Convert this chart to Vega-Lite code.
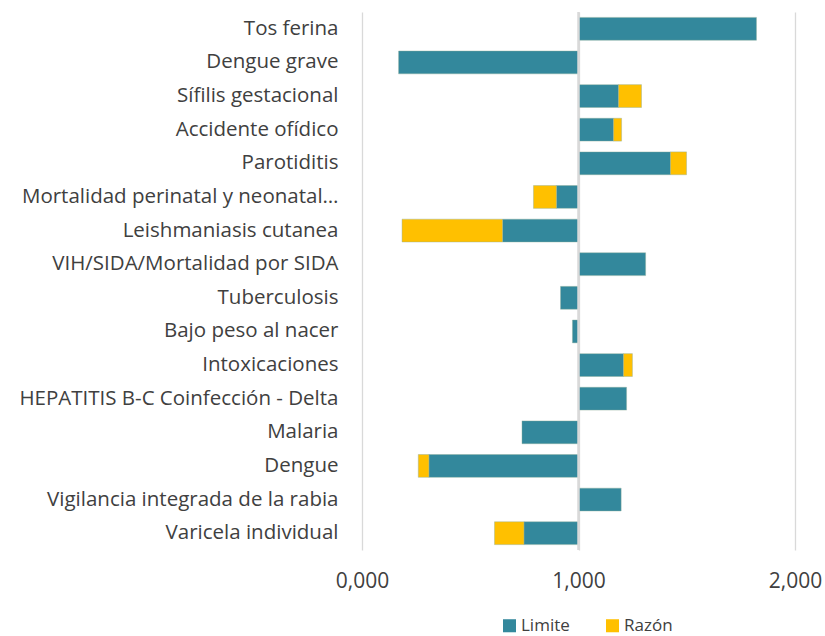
{
  "$schema": "https://vega.github.io/schema/vega-lite/v6.json",
  "width": 433,
  "height": 538,
  "autosize": {"type": "none"},
  "padding": {"left": 362, "top": 12, "right": 30, "bottom": 86},
  "background": "white",
  "config": {
    "view": {"stroke": null},
    "font": "Open Sans",
    "axis": {"labelFont": "Open Sans", "labelColor": "#404040"},
    "legend": {"labelFont": "Open Sans", "labelColor": "#404040"}
  },
  "datasets": {
    "barras": [
      {"categoria": "Tos ferina", "serie": "Limite", "desde": 1, "hasta": 1.822},
      {"categoria": "Dengue grave", "serie": "Limite", "desde": 1, "hasta": 0.169},
      {"categoria": "Sífilis gestacional ", "serie": "Limite", "desde": 1, "hasta": 1.185},
      {"categoria": "Sífilis gestacional ", "serie": "Razón", "desde": 1.185, "hasta": 1.291},
      {"categoria": "Accidente ofídico", "serie": "Limite", "desde": 1, "hasta": 1.162},
      {"categoria": "Accidente ofídico", "serie": "Razón", "desde": 1.162, "hasta": 1.199},
      {"categoria": "Parotiditis", "serie": "Limite", "desde": 1, "hasta": 1.425},
      {"categoria": "Parotiditis", "serie": "Razón", "desde": 1.425, "hasta": 1.499},
      {"categoria": "Mortalidad perinatal y neonatal…", "serie": "Limite", "desde": 1, "hasta": 0.898},
      {"categoria": "Mortalidad perinatal y neonatal…", "serie": "Razón", "desde": 0.898, "hasta": 0.792},
      {"categoria": "Leishmaniasis cutanea", "serie": "Limite", "desde": 1, "hasta": 0.649},
      {"categoria": "Leishmaniasis cutanea", "serie": "Razón", "desde": 0.649, "hasta": 0.185},
      {"categoria": "VIH/SIDA/Mortalidad por SIDA", "serie": "Limite", "desde": 1, "hasta": 1.31},
      {"categoria": "Tuberculosis", "serie": "Limite", "desde": 1, "hasta": 0.917},
      {"categoria": "Bajo peso al nacer", "serie": "Limite", "desde": 1, "hasta": 0.972},
      {"categoria": "Intoxicaciones", "serie": "Limite", "desde": 1, "hasta": 1.208},
      {"categoria": "Intoxicaciones", "serie": "Razón", "desde": 1.208, "hasta": 1.249},
      {"categoria": "HEPATITIS B-C Coinfección - Delta", "serie": "Limite", "desde": 1, "hasta": 1.222},
      {"categoria": "Malaria", "serie": "Limite", "desde": 1, "hasta": 0.739},
      {"categoria": "Dengue", "serie": "Limite", "desde": 1, "hasta": 0.309},
      {"categoria": "Dengue", "serie": "Razón", "desde": 0.309, "hasta": 0.26},
      {"categoria": "Vigilancia integrada de la rabia", "serie": "Limite", "desde": 1, "hasta": 1.197},
      {"categoria": "Varicela individual", "serie": "Limite", "desde": 1, "hasta": 0.748},
      {"categoria": "Varicela individual", "serie": "Razón", "desde": 0.748, "hasta": 0.612}
    ],
    "eje": [{"valor": 1}]
  },
  "layer": [
    {
      "data": {"name": "barras"},
      "mark": {"type": "bar", "stroke": "#8fae9a", "strokeWidth": 0.6, "strokeOpacity": 0.7},
      "encoding": {
        "y": {
          "field": "categoria",
          "type": "nominal",
          "sort": ["Tos ferina", "Dengue grave", "Sífilis gestacional ", "Accidente ofídico", "Parotiditis", "Mortalidad perinatal y neonatal…", "Leishmaniasis cutanea", "VIH/SIDA/Mortalidad por SIDA", "Tuberculosis", "Bajo peso al nacer", "Intoxicaciones", "HEPATITIS B-C Coinfección - Delta", "Malaria", "Dengue", "Vigilancia integrada de la rabia", "Varicela individual"],
          "scale": {"paddingInner": 0.32, "paddingOuter": 0.16},
          "axis": {"title": null, "domain": false, "ticks": false, "labelFontSize": 20.5, "labelPadding": 24, "labelLimit": 400}
        },
        "x": {
          "field": "desde",
          "type": "quantitative",
          "scale": {"domain": [0, 2], "nice": false, "zero": false},
          "axis": {
            "title": null,
            "values": [0, 1, 2],
            "labelExpr": "replace(format(datum.value, '.3f'), '.', ',')",
            "labelFontSize": 21,
            "labelPadding": 20,
            "labelFlush": false,
            "labelOverlap": false,
            "labelBound": false,
            "domain": false,
            "ticks": false,
            "grid": true,
            "gridColor": "#d9d9d9",
            "gridWidth": 1.3
          }
        },
        "x2": {"field": "hasta"},
        "color": {
          "field": "serie",
          "type": "nominal",
          "scale": {"domain": ["Limite", "Razón"], "range": ["#33889C", "#FFC000"]},
          "legend": {
            "title": null,
            "orient": "none",
            "legendX": 139,
            "legendY": 605,
            "direction": "horizontal",
            "symbolType": "square",
            "symbolSize": 170,
            "symbolStrokeWidth": 0,
            "labelFontSize": 17,
            "labelOffset": 3,
            "columnPadding": 34
          }
        }
      }
    },
    {
      "data": {"name": "eje"},
      "mark": {"type": "rule", "color": "#d9d9d9", "strokeWidth": 2.5},
      "encoding": {"x": {"field": "valor", "type": "quantitative"}}
    }
  ]
}
